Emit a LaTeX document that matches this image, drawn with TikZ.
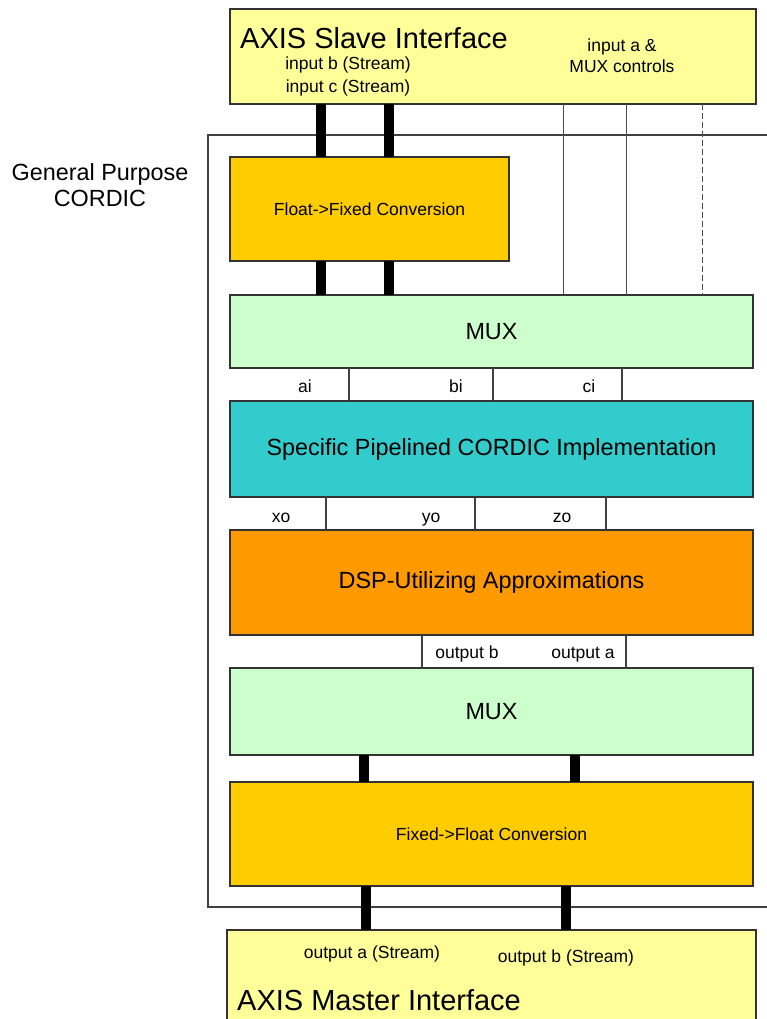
\documentclass[tikz,border=0pt]{standalone}
\usepackage{fontspec}
\setmainfont{Liberation Sans}
\begin{document}
\begin{tikzpicture}[x=1pt,y=-1pt,
  box/.style={draw=black!80, line width=1.2pt, rectangle, anchor=north west, outer sep=0pt, inner sep=0pt},
  big/.style={font=\fontsize{23.4}{27}\selectfont},
  huge/.style={font=\fontsize{29}{33}\selectfont},
  small/.style={font=\fontsize{17.5}{20}\selectfont},
  bus/.style={line width=10pt, black},
  wire/.style={draw=black!75, line width=1.1pt},
  ctl/.style={draw=black!70, line width=1pt}]
\definecolor{axisyellow}{HTML}{FFFF99}
\definecolor{convgold}{HTML}{FFCC00}
\definecolor{muxgreen}{HTML}{CCFFCC}
\definecolor{cordicteal}{HTML}{33CCCC}
\definecolor{dsporange}{HTML}{FF9900}

\useasboundingbox (0,0) rectangle (767,1019);
\clip (0,0) rectangle (767,1019);

% x positions of the buses and wires
\coordinate (xb) at (321,0);
\coordinate (xc) at (389,0);
\coordinate (xa1) at (563,0);
\coordinate (xa2) at (626,0);
\coordinate (xa3) at (702,0);
\coordinate (oa) at (364,0);
\coordinate (ob) at (575,0);
\coordinate (sa) at (366,0);
\coordinate (sb) at (566,0);

% enclosing General Purpose CORDIC block (open to the right)
\draw[wire] (780,135) -- (208,135) -- (208,907) -- (780,907);
\node[big, anchor=base] (gp1) at (100,180) {General Purpose};
\node[big, anchor=base] (gp2) at (100,207) {CORDIC};

% blocks
\node[box, fill=axisyellow, minimum width=526pt, minimum height=95pt] (slave) at (230,9) {};
\node[box, fill=convgold, minimum width=279pt, minimum height=104pt, small] (f2x) at (230,157) {};
\node[small] (f2xt) at (f2x.center) {Float->Fixed Conversion};
\node[box, fill=muxgreen, minimum width=523pt, minimum height=73pt] (mux1) at (230,295) {};
\node[big] (mux1t) at (mux1.center) {MUX};
\node[box, fill=cordicteal, minimum width=523pt, minimum height=96pt] (cordic) at (230,401) {};
\node[big] (cordict) at (cordic.center) {Specific Pipelined CORDIC Implementation};
\node[box, fill=dsporange, minimum width=523pt, minimum height=105pt] (dsp) at (230,530) {};
\node[big] (dspt) at (dsp.center) {DSP-Utilizing Approximations};
\node[box, fill=muxgreen, minimum width=523pt, minimum height=87pt] (mux2) at (230,668) {};
\node[big] (mux2t) at (mux2.center) {MUX};
\node[box, fill=convgold, minimum width=523pt, minimum height=104pt] (x2f) at (230,782) {};
\node[small] (x2ft) at (x2f.center) {Fixed->Float Conversion};
\node[box, fill=axisyellow, minimum width=529pt, minimum height=120pt] (master) at (227,930) {};

% interface texts
\node[huge, anchor=base west, inner xsep=0pt] (slavet) at (240,49) {AXIS Slave Interface};
\node[small, anchor=base] (inb) at (348,70) {input b (Stream)};
\node[small, anchor=base] (inc) at (348,93) {input c (Stream)};
\node[small, anchor=base] (ina) at (622,52) {input a \&};
\node[small, anchor=base] (muxc) at (622,73) {MUX controls};
\node[small, anchor=base] (outa) at (372,958) {output a (Stream)};
\node[small, anchor=base] (outb) at (566,962) {output b (Stream)};
\node[huge, anchor=base west, inner xsep=0pt] (mastert) at (237,1010) {AXIS Master Interface};

% streams into and out of the converters
\draw[bus] (xb |- slave.south) -- (xb |- f2x.north);
\draw[bus] (xc |- slave.south) -- (xc |- f2x.north);
\draw[bus] (xb |- f2x.south) -- (xb |- mux1.north);
\draw[bus] (xc |- f2x.south) -- (xc |- mux1.north);
\draw[bus] (oa |- mux2.south) -- (oa |- x2f.north);
\draw[bus] (ob |- mux2.south) -- (ob |- x2f.north);
\draw[bus] (sa |- x2f.south) -- (sa |- master.north);
\draw[bus] (sb |- x2f.south) -- (sb |- master.north);

% control wires
\draw[ctl] (xa1 |- slave.south) -- (xa1 |- mux1.north);
\draw[ctl] (xa2 |- slave.south) -- (xa2 |- mux1.north);
\draw[ctl, dashed, dash pattern=on 6pt off 3pt] (xa3 |- slave.south) -- (xa3 |- mux1.north);

% CORDIC inputs
\coordinate (s1) at (349,0);
\coordinate (s2) at (493,0);
\coordinate (s3) at (622,0);
\draw[wire] (s1 |- mux1.south) -- (s1 |- cordic.north);
\draw[wire] (s2 |- mux1.south) -- (s2 |- cordic.north);
\draw[wire] (s3 |- mux1.south) -- (s3 |- cordic.north);
\node[small, anchor=base] (ai) at (305,392) {ai};
\node[small, anchor=base] (bi) at (456,392) {bi};
\node[small, anchor=base] (ci) at (589,392) {ci};

% CORDIC outputs
\coordinate (t1) at (326,0);
\coordinate (t2) at (475,0);
\coordinate (t3) at (606,0);
\draw[wire] (t1 |- cordic.south) -- (t1 |- dsp.north);
\draw[wire] (t2 |- cordic.south) -- (t2 |- dsp.north);
\draw[wire] (t3 |- cordic.south) -- (t3 |- dsp.north);
\node[small, anchor=base] (xo) at (281,522) {xo};
\node[small, anchor=base] (yo) at (431,522) {yo};
\node[small, anchor=base] (zo) at (562,522) {zo};

% approximation outputs
\coordinate (u1) at (422,0);
\coordinate (u2) at (626,0);
\draw[wire] (u1 |- dsp.south) -- (u1 |- mux2.north);
\draw[wire] (u2 |- dsp.south) -- (u2 |- mux2.north);
\node[small, anchor=base] (ob2) at (467,658) {output b};
\node[small, anchor=base] (oa2) at (583,658) {output a};
\end{tikzpicture}
\end{document}
